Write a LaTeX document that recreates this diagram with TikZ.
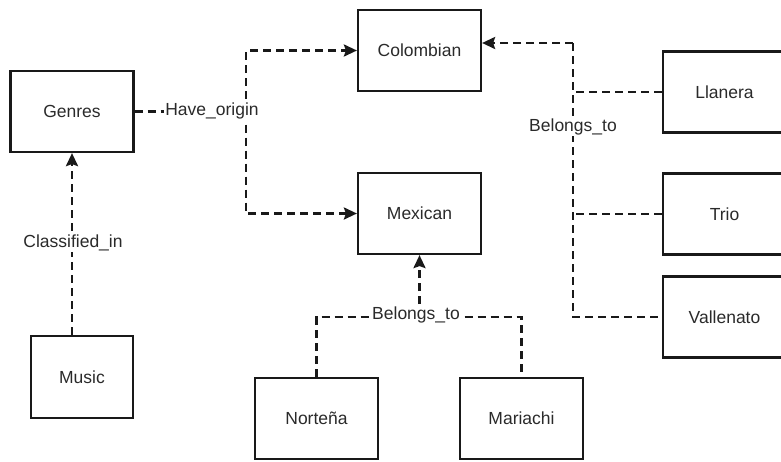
\documentclass[tikz,border=0pt]{standalone}
\usepackage{fontspec}
\setmainfont{Liberation Sans}
\usetikzlibrary{arrows.meta,calc}
\definecolor{txt}{HTML}{2a2a2a}
\tikzset{
  box/.style={draw=black!90, line width=2.2pt, minimum width=123pt, minimum height=81pt,
    inner sep=0pt, text=txt, font=\fontsize{17.5}{20}\selectfont},
  rel/.style={draw=black!90, line width=2.5pt, dash pattern=on 8pt off 5pt},
  arr/.style={rel, -{Stealth[length=13pt,width=12pt,inset=2pt]}},
  lbl/.style={fill=white, text=txt, inner sep=1pt, font=\fontsize{17.5}{20}\selectfont}
}
\begin{document}
\begin{tikzpicture}[x=1pt,y=-1pt]
\useasboundingbox (0,0) rectangle (781,461);
\clip (0,0) rectangle (781,461);
\node[box] (genres) at (72,111.5) {Genres};
\node[box] (colombian) at (419.5,50.5) {Colombian};
\node[box] (mexican) at (419.5,213.5) {Mexican};
\node[box, minimum width=102pt, minimum height=82pt] (music) at (82,377) {Music};
\node[box] (llanera) at (724.5,92) {Llanera};
\node[box] (trio) at (724.5,214) {Trio};
\node[box] (vallenato) at (724.5,317) {Vallenato};
\node[box] (nortena) at (316.5,418.5) {Norteña};
\node[box] (mariachi) at (521.5,418.5) {Mariachi};
% Have_origin
\coordinate (ho) at (246,111.5);
\draw[rel] (genres.east) -- (ho);
\draw[arr] (ho) |- (colombian.west);
\draw[arr] (ho) |- (mexican.west);
\node[lbl] (lho) at (212,111) {Have\_origin};
% Colombian Belongs_to
\coordinate (cb) at (573,43);
\draw[arr] (cb) -- (cb -| colombian.east);
\draw[rel] (cb) -- (cb |- vallenato.west) -- (vallenato.west);
\draw[rel] (llanera.west) -- (llanera.west -| cb);
\draw[rel] (trio.west) -- (trio.west -| cb);
\node[lbl] (lbc) at (573,127) {Belongs\_to};
% Mexican Belongs_to
\coordinate (mb) at (419.5,317);
\draw[rel] (nortena.north) -- (nortena.north |- mb) -- (mariachi.north |- mb) -- (mariachi.north);
\draw[arr] (mb) -- (mexican.south);
\node[lbl] (lbm) at (416,315) {Belongs\_to};
% Classified_in
\draw[arr] (genres.south |- music.north) -- (genres.south);
\node[lbl] (lci) at (73,243) {Classified\_in};
\end{tikzpicture}
\end{document}
